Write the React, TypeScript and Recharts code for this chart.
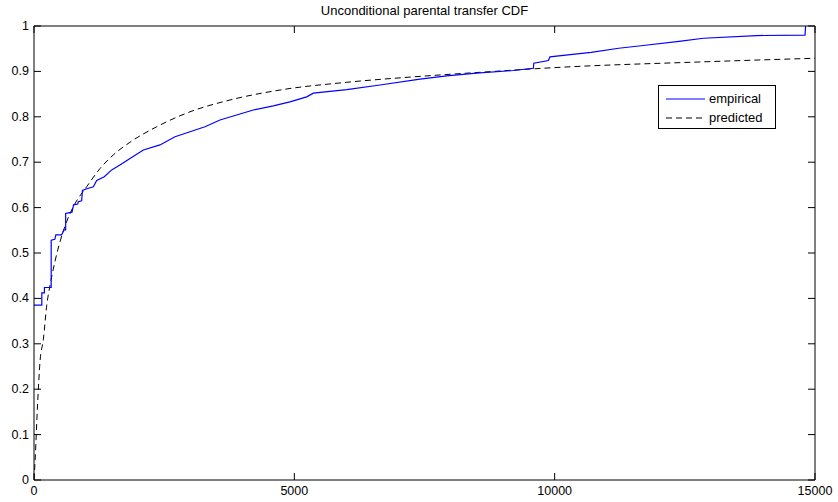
import { LineChart, Line, XAxis, YAxis } from 'recharts'

const FONT = '"Liberation Sans", Arial, Helvetica, sans-serif'

const chartTitle = 'Unconditional parental transfer CDF'

const xTicks = [0, 5000, 10000, 15000]
const xTickLabels = ['0', '5000', '10000', '15000']
const yTicks = [0, 0.1, 0.2, 0.3, 0.4, 0.5, 0.6, 0.7, 0.8, 0.9, 1]
const yTickLabels = ['0', '0.1', '0.2', '0.3', '0.4', '0.5', '0.6', '0.7', '0.8', '0.9', '1']

// empirical CDF (repeated x = vertical jump)
const empiricalX = [
  0, 150, 150, 200, 200, 330, 330, 400, 420, 530, 580, 608, 608, 730, 760, 840, 850, 915, 930,
  1000, 1140, 1204, 1350, 1492, 1650, 1844, 2100, 2420, 2708, 2996, 3284, 3572, 3892, 4212,
  4596, 4916, 5237, 5365, 6006, 6645, 7414, 7926, 8502, 9206, 9590, 9600, 9880, 9910, 10300,
  10700, 11231, 11700, 12388, 12855, 13880, 14808, 14820,
]
const empiricalY = [
  0.385, 0.385, 0.412, 0.412, 0.424, 0.424, 0.528, 0.53, 0.54, 0.54, 0.551, 0.551, 0.587, 0.59,
  0.606, 0.608, 0.613, 0.615, 0.638, 0.641, 0.646, 0.66, 0.668, 0.683, 0.694, 0.708, 0.727,
  0.738, 0.756, 0.767, 0.778, 0.793, 0.804, 0.815, 0.824, 0.833, 0.844, 0.852, 0.86, 0.87,
  0.883, 0.89, 0.896, 0.902, 0.907, 0.918, 0.924, 0.932, 0.937, 0.942, 0.951, 0.957, 0.966,
  0.973, 0.979, 0.98, 1,
]

// predicted CDF (smooth)
const predictedX = [
  0, 20, 70, 115, 180, 245, 310, 400, 500, 630, 760, 1012, 1268, 1523, 1844, 2356, 2996, 3764,
  4725, 6006, 7286, 8566, 10102, 12840, 15000,
]
const predictedY = [
  0, 0.04, 0.17, 0.26, 0.31, 0.385, 0.43, 0.48, 0.525, 0.57, 0.603, 0.646, 0.686, 0.716, 0.744,
  0.778, 0.811, 0.837, 0.859, 0.876, 0.888, 0.898, 0.909, 0.921, 0.929,
]

const legendLabels = ['empirical', 'predicted']
const legendColors = ['#0000ff', '#000000']
const legendDashes = ['', '6 4']

const empirical = empiricalX.map((x, i) => ({ x, y: empiricalY[i] }))
const predicted = predictedX.map((x, i) => ({ x, y: predictedY[i] }))

const TICK_LEN = 7

const BottomTick = (props: any) => {
  const { x, y, payload } = props
  return (
    <g>
      <line x1={x} y1={y} x2={x} y2={y - TICK_LEN} stroke="#000" />
      <text x={x} y={y + 15} textAnchor="middle" fontSize={12.5} fontFamily={FONT} fill="#000">
        {xTickLabels[xTicks.indexOf(payload.value)]}
      </text>
    </g>
  )
}

const TopTick = (props: any) => {
  const { x, y } = props
  return <line x1={x} y1={y} x2={x} y2={y + TICK_LEN} stroke="#000" />
}

const LeftTick = (props: any) => {
  const { x, y, payload } = props
  return (
    <g>
      <line x1={x} y1={y} x2={x + TICK_LEN} y2={y} stroke="#000" />
      <text x={x - 5} y={y + 4} textAnchor="end" fontSize={12.5} fontFamily={FONT} fill="#000">
        {yTickLabels[yTicks.indexOf(payload.value)]}
      </text>
    </g>
  )
}

const RightTick = (props: any) => {
  const { x, y } = props
  return <line x1={x} y1={y} x2={x - TICK_LEN} y2={y} stroke="#000" />
}

function ChartLegend() {
  return (
    <div
      style={{
        position: 'absolute',
        left: 658,
        top: 85,
        width: 116,
        height: 42,
        border: '1px solid #000',
        background: '#fff',
        fontFamily: FONT,
        fontSize: 13,
      }}
    >
      {legendLabels.map((label, i) => (
        <div key={label} style={{ display: 'flex', alignItems: 'center', height: 19, marginTop: i === 0 ? 3 : 0 }}>
          <svg width={50} height={10}>
            <line
              x1={7}
              y1={5}
              x2={46}
              y2={5}
              stroke={legendColors[i]}
              strokeWidth={1.2}
              strokeDasharray={legendDashes[i]}
            />
          </svg>
          <span style={{ color: '#000' }}>{label}</span>
        </div>
      ))}
    </div>
  )
}

export default function App() {
  return (
    <div style={{ position: 'absolute', left: 0, top: 0, width: 838, height: 502, background: '#fff' }}>
      <div
        style={{
          position: 'absolute',
          left: 34,
          width: 781,
          top: 3,
          textAlign: 'center',
          fontFamily: FONT,
          fontSize: 13,
          color: '#000',
        }}
      >
        {chartTitle}
      </div>
      <LineChart width={838} height={502} margin={{ top: 0, right: 0, bottom: 0, left: 0 }}>
        <XAxis
          xAxisId="bottom"
          type="number"
          dataKey="x"
          domain={[0, 15000]}
          ticks={xTicks}
          height={22}
          tickSize={0}
          tickMargin={0}
          tick={<BottomTick />}
          axisLine={{ stroke: '#000' }}
          tickLine={false}
          interval={0}
          allowDataOverflow
        />
        <XAxis
          xAxisId="top"
          orientation="top"
          type="number"
          dataKey="x"
          domain={[0, 15000]}
          ticks={xTicks}
          height={26}
          tickSize={0}
          tickMargin={0}
          tick={<TopTick />}
          axisLine={{ stroke: '#000' }}
          tickLine={false}
          interval={0}
          allowDataOverflow
        />
        <YAxis
          yAxisId="left"
          type="number"
          domain={[0, 1]}
          ticks={yTicks}
          width={34}
          tickSize={0}
          tickMargin={0}
          tick={<LeftTick />}
          axisLine={{ stroke: '#000' }}
          tickLine={false}
          interval={0}
          allowDataOverflow
        />
        <YAxis
          yAxisId="right"
          orientation="right"
          type="number"
          domain={[0, 1]}
          ticks={yTicks}
          width={23}
          tickSize={0}
          tickMargin={0}
          tick={<RightTick />}
          axisLine={{ stroke: '#000' }}
          tickLine={false}
          interval={0}
          allowDataOverflow
        />
        <Line
          xAxisId="bottom"
          yAxisId="left"
          data={predicted}
          dataKey="y"
          type="monotone"
          stroke="#000"
          strokeWidth={1}
          strokeDasharray="6 4"
          dot={false}
          isAnimationActive={false}
        />
        <Line
          xAxisId="bottom"
          yAxisId="left"
          data={empirical}
          dataKey="y"
          type="linear"
          stroke="#0000ff"
          strokeWidth={1.2}
          dot={false}
          isAnimationActive={false}
        />
      </LineChart>
      <ChartLegend />
    </div>
  )
}
